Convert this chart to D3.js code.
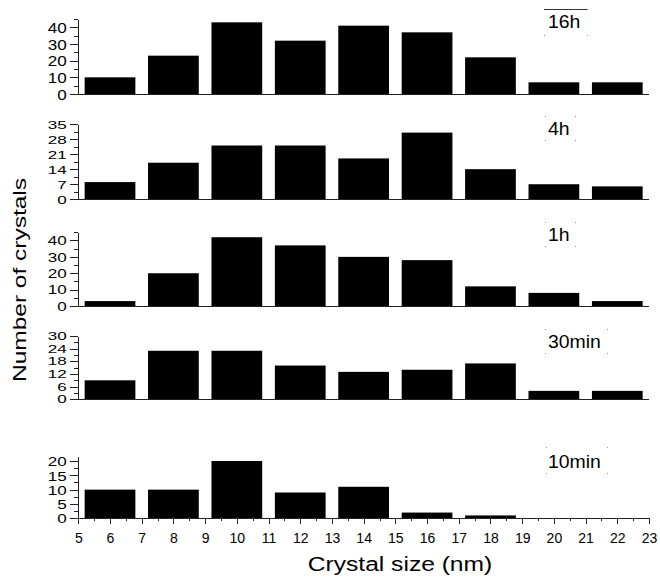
<!DOCTYPE html>
<html>
<head>
<meta charset="utf-8">
<script src="https://cdn.jsdelivr.net/npm/d3@7"></script>
<style>
  html, body { margin: 0; padding: 0; background: #fff; }
  svg { display: block; font-family: "Liberation Sans", Arial, sans-serif; }
  .axis path, .axis line { stroke: #222; stroke-width: 1; shape-rendering: crispEdges; }
  .axis text { fill: #000; }
</style>
</head>
<body>
<svg id="chart" width="660" height="577"></svg>
<script>
// Bin centres (nm) shared by every histogram
const binCenters = [6, 8, 10, 12, 14, 16, 18, 20, 22];
const binHalfWidth = 0.8;

// Sampling times, top to bottom
const panelLabels = ["16h", "4h", "1h", "30min", "10min"];

// Crystal counts per bin
const counts16h   = [10, 23, 43, 32, 41, 37, 22, 7, 7];
const counts4h    = [8, 17, 25, 25, 19, 31, 14, 7, 6];
const counts1h    = [3, 20, 42, 37, 30, 28, 12, 8, 3];
const counts30min = [9, 23, 23, 16, 13, 14, 17, 4, 4];
const counts10min = [10, 10, 20, 9, 11, 2, 1, 0, 0];

// Y-axis ranges and tick labels per panel
const yMax = [45, 35, 45, 30, 21.5];
const yTicks16h   = [0, 10, 20, 30, 40];
const yTicks4h    = [0, 7, 14, 21, 28, 35];
const yTicks1h    = [0, 10, 20, 30, 40];
const yTicks30min = [0, 6, 12, 18, 24, 30];
const yTicks10min = [0, 5, 10, 15, 20];

// X-axis ticks
const xTicks = d3.range(5, 24);
const xMinorTicks = d3.range(5.5, 23, 1);

const seriesCounts = [counts16h, counts4h, counts1h, counts30min, counts10min];
const seriesTicks = [yTicks16h, yTicks4h, yTicks1h, yTicks30min, yTicks10min];

// Panel geometry: pixel row of the zero line and of the axis top
const panelLayout = [
  { zero: 94,    top: 19,    labelScaleY: 1.0,  box: [544, 9, 587, 35],    label: [548, 28],  topRule: true },
  { zero: 199.3, top: 124,   labelScaleY: 0.83, box: [545, 116, 575, 140], label: [548, 135], topRule: false },
  { zero: 306,   top: 232.3, labelScaleY: 0.85, box: [545, 222, 575, 246], label: [548, 241], topRule: false },
  { zero: 399.3, top: 336,   labelScaleY: 0.72, box: [545, 329, 607, 353], label: [548, 348], topRule: false },
  { zero: 518.3, top: 456.7, labelScaleY: 0.93, box: [546, 447, 607, 473], label: [548, 468], topRule: false }
];

const svg = d3.select("#chart");
const x = d3.scaleLinear().domain([5, 23]).range([78.3, 649]);

panelLayout.forEach((p, i) => {
  const counts = seriesCounts[i];
  const ticks = seriesTicks[i];
  const y = d3.scaleLinear().domain([0, yMax[i]]).range([p.zero, p.top]);
  const g = svg.append("g");

  // bars
  g.selectAll("rect.bar")
    .data(binCenters.map((c, k) => ({ c, v: counts[k] })).filter(d => d.v > 0))
    .join("rect")
    .attr("class", "bar")
    .attr("x", d => x(d.c - binHalfWidth))
    .attr("width", d => x(d.c + binHalfWidth) - x(d.c - binHalfWidth))
    .attr("y", d => y(d.v))
    .attr("height", d => y(0) - y(d.v))
    .attr("fill", "#000");

  // baseline / x axis
  if (i < panelLayout.length - 1) {
    g.append("line")
      .attr("x1", x(5)).attr("x2", x(23))
      .attr("y1", y(0)).attr("y2", y(0))
      .attr("stroke", "#222").attr("shape-rendering", "crispEdges");
  } else {
    const xMinor = g.append("g").attr("class", "axis")
      .attr("transform", `translate(0,${y(0)})`)
      .call(d3.axisBottom(x).tickValues(xMinorTicks).tickSize(3).tickSizeOuter(0).tickFormat(""));
    xMinor.select(".domain").remove();
    const xAxis = g.append("g").attr("class", "axis")
      .attr("transform", `translate(0,${y(0)})`)
      .call(d3.axisBottom(x).tickValues(xTicks).tickSize(6).tickSizeOuter(0).tickPadding(9).tickFormat(d3.format("d")));
    xAxis.selectAll("text").attr("font-size", 14).attr("font-family", "Liberation Sans, Arial, sans-serif");
  }

  // minor y ticks
  const step = ticks[1] - ticks[0];
  const minor = d3.range(step / 2, yMax[i] + 1e-6, step);
  const yMinor = g.append("g").attr("class", "axis")
    .attr("transform", `translate(${x(5)},0)`)
    .call(d3.axisLeft(y).tickValues(minor).tickSize(4).tickSizeOuter(0).tickFormat(""));
  yMinor.select(".domain").remove();

  // major y ticks with stretched labels
  const sx = 1.22, sy = p.labelScaleY;
  const yAxis = g.append("g").attr("class", "axis")
    .attr("transform", `translate(${x(5)},0)`)
    .call(d3.axisLeft(y).tickValues(ticks).tickSize(8).tickSizeOuter(0).tickPadding(3));
  yAxis.selectAll("text")
    .attr("font-size", 14)
    .attr("font-family", "Liberation Sans, Arial, sans-serif")
    .attr("x", -11.5 / sx)
    .attr("dy", "0.36em")
    .attr("transform", `scale(${sx},${sy})`);

  // sample-time label with its dotted frame
  const [bx0, by0, bx1, by1] = p.box;
  const corners = [[bx0, by0], [bx1, by0], [bx0, by1], [bx1, by1]];
  g.selectAll("rect.dot").data(corners).join("rect")
    .attr("class", "dot")
    .attr("x", d => d[0]).attr("y", d => d[1])
    .attr("width", 1).attr("height", 1)
    .attr("fill", "#999");
  if (p.topRule) {
    g.append("line")
      .attr("x1", bx0).attr("x2", bx1).attr("y1", by0 + 0.5).attr("y2", by0 + 0.5)
      .attr("stroke", "#333").attr("stroke-width", 1);
  }
  g.append("text")
    .attr("transform", `translate(${p.label[0]},${p.label[1]}) scale(1.08,1)`)
    .attr("font-size", 18)
    .attr("fill", "#000")
    .text(panelLabels[i]);
});

// axis titles
svg.append("text")
  .attr("transform", "translate(400,571) scale(1.23,1)")
  .attr("text-anchor", "middle")
  .attr("font-size", 20)
  .attr("fill", "#000")
  .text("Crystal size (nm)");

svg.append("text")
  .attr("transform", "translate(25.5,280) rotate(-90) scale(1.29,1)")
  .attr("text-anchor", "middle")
  .attr("font-size", 19)
  .attr("fill", "#000")
  .text("Number of crystals");
</script>
</body>
</html>
